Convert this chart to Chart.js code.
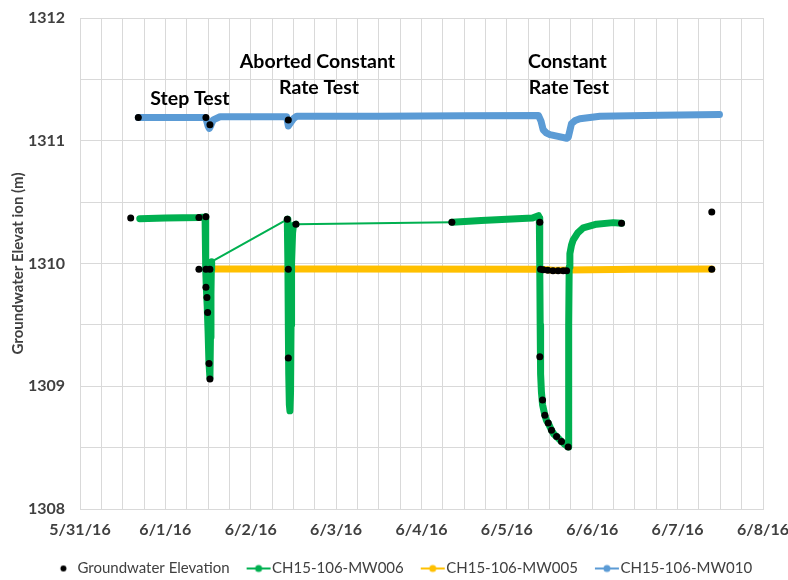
<!DOCTYPE html>
<html><head><meta charset="utf-8">
<script src="https://cdn.jsdelivr.net/npm/chart.js@4.4.1/dist/chart.umd.min.js"></script>
<style>html,body{margin:0;padding:0;background:#fff;}#wrap{width:788px;height:580px;position:relative;}</style>
</head><body><div id="wrap"><canvas id="c"></canvas></div>
<script>
// x values are days after 5/31/16 00:00
const dateLabels = ['5/31/16','6/1/16','6/2/16','6/3/16','6/4/16','6/5/16','6/6/16','6/7/16','6/8/16'];
const seriesNames = ['Groundwater Elevation','CH15-106-MW006','CH15-106-MW005','CH15-106-MW010'];

const gwDays = [0.594,0.683,1.393,1.475,1.475,1.522,1.393,1.475,1.522,1.475,1.487,1.495,1.511,1.522,
  2.44,2.428,2.44,2.44,2.529,4.356,5.386,5.394,5.425,5.48,5.54,5.60,5.66,5.70,
  5.386,5.418,5.445,5.484,5.523,5.582,5.64,5.718,6.343,7.40,7.40];
const gwElev = [1310.37,1311.19,1310.375,1310.38,1311.19,1311.13,1309.953,1309.953,1309.953,1309.806,1309.724,1309.60,1309.186,1309.06,
  1311.17,1310.36,1309.953,1309.23,1310.32,1310.337,1310.336,1309.953,1309.95,1309.945,1309.94,1309.94,1309.94,1309.94,
  1309.24,1308.887,1308.764,1308.70,1308.642,1308.59,1308.55,1308.505,1310.328,1310.42,1309.953];

const mw006Days = [0.70,1.0,1.40,1.465,1.47,1.475,1.48,1.49,1.50,1.51,1.522,1.528,1.534,1.538,1.542,
  2.428,2.435,2.44,2.445,2.452,2.459,2.466,2.472,2.478,2.49,2.50,2.529,
  4.356,4.7,5.0,5.30,5.37,5.38,5.385,5.39,5.395,5.405,5.418,5.445,5.465,5.484,5.523,5.55,5.582,5.64,5.68,5.718,
  5.722,5.726,5.73,5.738,5.757,5.776,5.83,5.894,6.05,6.245,6.343];
const mw006Elev = [1310.365,1310.37,1310.375,1310.38,1310.2,1309.95,1309.80,1309.65,1309.45,1309.2,1309.07,1309.4,1309.75,1309.95,1310.015,
  1310.36,1310.0,1309.5,1309.1,1308.85,1308.80,1308.95,1309.5,1310.0,1310.25,1310.31,1310.32,
  1310.337,1310.35,1310.36,1310.37,1310.39,1310.37,1310.0,1309.5,1309.1,1308.95,1308.85,1308.764,1308.72,1308.70,1308.642,1308.61,1308.59,1308.55,1308.525,1308.505,
  1308.9,1309.5,1309.97,1310.08,1310.15,1310.19,1310.25,1310.29,1310.32,1310.333,1310.328];

const mw005Days = [1.50,3.0,5.39,5.55,5.72,6.5,7.40];
const mw005Elev = [1309.955,1309.955,1309.953,1309.945,1309.948,1309.953,1309.955];

const mw010Days = [0.683,1.46,1.48,1.50,1.514,1.53,1.56,1.64,2.0,2.42,2.43,2.44,2.46,2.50,2.54,3.5,4.5,5.37,5.40,5.425,5.46,5.504,5.60,5.70,5.72,5.74,5.757,5.80,5.855,6.09,6.8,7.49];
const mw010Elev = [1311.19,1311.19,1311.17,1311.12,1311.10,1311.12,1311.17,1311.195,1311.195,1311.195,1311.16,1311.12,1311.14,1311.18,1311.20,1311.20,1311.203,1311.206,1311.16,1311.09,1311.065,1311.05,1311.035,1311.02,1311.03,1311.09,1311.14,1311.165,1311.18,1311.20,1311.207,1311.214];

const annotTexts = ['Step Test','Aborted Constant','Rate Test','Constant','Rate Test'];
const annotDays = [1.288,2.781,2.80,5.708,5.726];
const annotElev = [1311.342,1311.644,1311.43,1311.644,1311.43];

const pts = (xs, ys) => xs.map((x, i) => ({x, y: ys[i]}));

const C_GREEN = '#00b050', C_YELLOW = '#ffc000', C_BLUE = '#5b9bd5', C_BLACK = '#000000';
const FONT = 'Lato, "Open Sans", sans-serif';

function legendIcon(color, lineStyle) {
  const cv = document.createElement('canvas');
  cv.width = 48; cv.height = 14;
  const g = cv.getContext('2d');
  if (lineStyle) {
    g.strokeStyle = color; g.lineWidth = 2;
    g.beginPath(); g.moveTo(23, 7); g.lineTo(47, 7); g.stroke();
    g.fillStyle = color; g.beginPath(); g.arc(35, 7, 3.5, 0, Math.PI * 2); g.fill();
  } else {
    g.fillStyle = color; g.beginPath(); g.arc(34.5, 7, 3, 0, Math.PI * 2); g.fill();
  }
  return cv;
}
const legendIcons = [legendIcon(C_BLACK, false), legendIcon(C_GREEN, true), legendIcon(C_YELLOW, true), legendIcon(C_BLUE, true)];

const annotPlugin = {
  id: 'annot',
  afterDatasetsDraw(chart) {
    const {ctx, scales} = chart;
    ctx.save();
    ctx.font = 'bold 19.5px ' + FONT;
    ctx.fillStyle = '#000';
    ctx.textAlign = 'center';
    ctx.textBaseline = 'middle';
    annotTexts.forEach((t, i) => {
      ctx.fillText(t, scales.x.getPixelForValue(annotDays[i]), scales.y.getPixelForValue(annotElev[i]));
    });
    ctx.restore();
  }
};

new Chart(document.getElementById('c'), {
  type: 'line',
  data: {
    datasets: [
      { label: seriesNames[0], data: pts(gwDays, gwElev), showLine: false, pointRadius: 3.5, pointHoverRadius: 3.5,
        pointBackgroundColor: C_BLACK, pointBorderWidth: 0, borderColor: C_BLACK, backgroundColor: C_BLACK, order: 0 },
      { label: seriesNames[1], data: pts(mw006Days, mw006Elev), borderColor: C_GREEN, backgroundColor: C_GREEN,
        borderWidth: 7, pointRadius: 0, tension: 0, borderCapStyle: 'round', borderJoinStyle: 'round', order: 2,
        segment: { borderWidth: ctx => (ctx.p1.parsed.x - ctx.p0.parsed.x > 0.5 ? 2 : 7) } },
      { label: seriesNames[2], data: pts(mw005Days, mw005Elev), borderColor: C_YELLOW, backgroundColor: C_YELLOW,
        borderWidth: 7, pointRadius: 0, tension: 0, borderCapStyle: 'round', borderJoinStyle: 'round', order: 3 },
      { label: seriesNames[3], data: pts(mw010Days, mw010Elev), borderColor: C_BLUE, backgroundColor: C_BLUE,
        borderWidth: 7, pointRadius: 0, tension: 0, borderCapStyle: 'round', borderJoinStyle: 'round', order: 1 }
    ]
  },
  options: {
    responsive: true, maintainAspectRatio: false, devicePixelRatio: 1, animation: false,
    layout: { padding: { top: 18, right: 0, bottom: -6, left: 0 } },
    plugins: {
      tooltip: { enabled: false },
      legend: {
        position: 'bottom',
        labels: {
          usePointStyle: true, pointStyleWidth: 34, padding: 1,
          font: { family: FONT, size: 15 }, color: '#404040',
          generateLabels(chart) {
            const items = Chart.defaults.plugins.legend.labels.generateLabels(chart);
            items.sort((a, b) => a.datasetIndex - b.datasetIndex);
            items.forEach(it => { it.pointStyle = legendIcons[it.datasetIndex]; });
            return items;
          }
        }
      }
    },
    scales: {
      x: {
        type: 'linear', min: 0, max: 8,
        grid: { color: '#d9d9d9', drawTicks: false },
        border: { color: '#d9d9d9' },
        ticks: { stepSize: 0.25, autoSkip: false, maxRotation: 0, padding: 11, color: '#404040',
          font: { family: FONT, size: 16, weight: 'bold' },
          callback: v => (Number.isInteger(v) ? dateLabels[v] : '') },
        afterFit(scale) { scale.height = 51; scale.paddingLeft = 0; scale.paddingRight = 25; }
      },
      y: {
        type: 'linear', min: 1308, max: 1312,
        grid: { color: '#d9d9d9', drawTicks: false },
        border: { color: '#d9d9d9' },
        ticks: { stepSize: 0.5, autoSkip: false, padding: 15, color: '#404040',
          font: { family: FONT, size: 16, weight: 'bold' },
          callback: v => (Number.isInteger(v) ? String(v) : '') },
        title: { display: true, text: 'Groundwater Elevat ion (m)', color: '#404040',
          font: { family: FONT, size: 15, weight: 'bold' }, padding: { top: 9, bottom: 0 } },
        afterFit(scale) { scale.width = 80; scale.paddingTop = 0; scale.paddingBottom = 0; }
      }
    }
  },
  plugins: [annotPlugin]
});
</script></body></html>
